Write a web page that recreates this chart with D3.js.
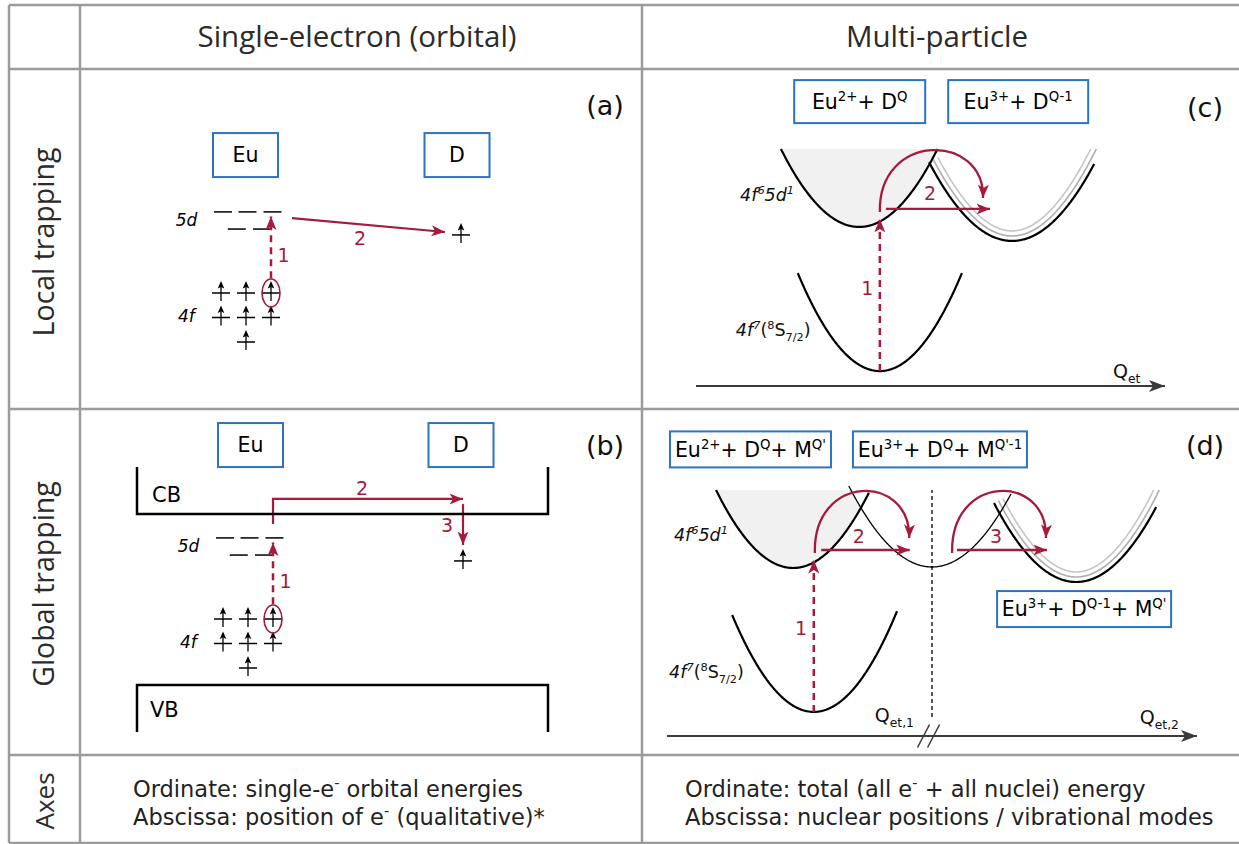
<!DOCTYPE html>
<html><head><meta charset="utf-8">
<script src="https://cdn.jsdelivr.net/npm/d3@7/dist/d3.min.js"></script>
<style>html,body{margin:0;padding:0;background:#fff}svg{display:block}</style>
</head><body>
<svg id="fig" width="1239" height="844"></svg>
<script>
// ================= DATA =================
const columnHeaders = ["Single-electron (orbital)", "Multi-particle"];
const rowHeaders = ["Local trapping", "Global trapping", "Axes"];
const panelTags = ["(a)", "(b)", "(c)", "(d)"];
const axesNotesOrbital = [
  [["Ordinate: single-e"], ["-", "sup"], [" orbital energies"]],
  [["Abscissa: position of e"], ["-", "sup"], [" (qualitative)*"]]
];
const axesNotesMulti = [
  [["Ordinate: total (all e"], ["-", "sup"], [" + all nuclei) energy"]],
  [["Abscissa: nuclear positions / vibrational modes"]]
];

// --- single-electron panels: x = orbital column / site position, y = orbital energy (arb. units)
const f4Electrons = [[0, 2], [1, 2], [2, 2], [0, 1], [1, 1], [2, 1], [1, 0]]; // [column, sub-level energy]
const d5UpperLevels = [0.08, 1.06, 2.06];
const d5LowerLevels = [0.63, 1.64];
const d5Energies = [5.31, 4.61];
const excitedElectron = [2, 2];
const excitationE = [2.6, 5.12];
const donorLevel = [9.6, 4.37];
const transferA = [[2.84, 5.06], [8.96, 4.49]];
const transferB = [[2.0, 5.88], [2.0, 6.9], [9.6, 6.9]];
const captureB = [[9.6, 6.69], [9.6, 5.02]];
const bandEdgesB = [6.29, -0.69];   // CB bottom, VB top
const bandOuterB = [8.2, -2.61];
const bandSpanB = [-3.44, 13.0];
const siteBoxesA = [["Eu", 0.98, 7.63], ["D", 9.44, 7.63]];
const siteBoxesB = [["Eu", 1.1, 9.1], ["D", 9.52, 9.1]];
const numLabelsA = [["1", 2.5, 3.25], ["2", 5.56, 3.96]];
const numLabelsB = [["1", 2.5, 3.25], ["2", 5.56, 7.06], ["3", 8.96, 5.55]];
const shellLabels = [["5d", -0.95, 4.73], ["4f", -1.05, 0.82]];
const bandLabelsB = [["CB", -2.84, 6.78], ["VB", -2.92, -2.0]];

// --- multi-particle panels: parabolas [Q0, Emin, curvature, Qfrom, Qto] (arb. units 0-100)
const pesC_Eu2 = [34.8, 67.1, 0.118, 18.1, 51.5];
const pesC_Eu3 = [67.4, 61.2, 0.106, 49.7, 84.9];
const pesC_ground = [39.2, 6.3, 0.135, 21.7, 56.7];
const arcC = [[39.2, 73.4], [38.8, 107.2], [61.6, 107.2], [61.2, 79.3]];
const hopC = [[40.5, 74.7], [62.7, 74.7]];
const excC = [[39.2, 6.3], [39.2, 70.5]];
const numLabelsC = [["1", 36.5, 38.4], ["2", 49.9, 78.5]];

const pesD_Eu2 = [23.8, 68.3, 0.1497, 9.25, 38.1];
const pesD_M = [50.0, 68.7, 0.1337, 34.3, 64.9];
const pesD_D = [77.2, 62.6, 0.1336, 61.7, 92.3];
const pesD_ground = [27.7, 9.8, 0.166, 12.3, 43.4];
const arcD2 = [[27.9, 74.4], [27.5, 106.9], [46.0, 106.9], [45.7, 80.5]];
const arcD3 = [[53.8, 74.4], [53.4, 106.9], [71.9, 106.9], [71.5, 80.5]];
const hopD2 = [[29.1, 75.6], [45.8, 75.6]];
const hopD3 = [[54.7, 75.6], [71.7, 75.6]];
const excD = [[27.7, 9.8], [27.7, 71.5]];
const separatorD = [50.0, 7.7, 100];
const slashesD = [48.4, 50.3];
const numLabelsD = [["1", 25.3, 41.1], ["2", 36.2, 78.5], ["3", 62.1, 78.5]];

const stateBoxesC = [
  [[["Eu"], ["2+", "sup"], ["+ D"], ["Q", "sup"]], 34.9, 120.0],
  [[["Eu"], ["3+", "sup"], ["+ D"], ["Q-1", "sup"]], 68.7, 120.0]
];
const stateBoxesD = [
  [[["Eu"], ["2+", "sup"], ["+ D"], ["Q", "sup"], ["+ M"], ["Q'", "sup"]], 15.75, 116.5],
  [[["Eu"], ["3+", "sup"], ["+ D"], ["Q", "sup"], ["+ M"], ["Q'-1", "sup"]], 51.5, 116.5],
  [[["Eu"], ["3+", "sup"], ["+ D"], ["Q-1", "sup"], ["+ M"], ["Q'", "sup"]], 78.7, 51.6]
];
const excitedLabel = [["4f", "i"], ["6", "supi"], ["5d", "i"], ["1", "supi"]];
const groundLabel = [["4f", "i"], ["7", "supi"], ["("], ["8", "sup"], ["S"], ["7/2", "sub"], [")"]];
const pesLabelsC = [[excitedLabel, 9.4, 78.1], [groundLabel, 8.5, 21.1]];
const axisLabelsC = [[[["Q"], ["et", "sub"]], 88.9, 3.4]];
const pesLabelsD = [[excitedLabel, 1.3, 79.3], [groundLabel, 0.4, 23.6]];
const axisLabelsD = [[[["Q"], ["et,1", "sub"]], 39.2, 5.7], [[["Q"], ["et,2", "sub"]], 89.2, 4.9]];

// ================= LAYOUT / STYLE =================
const W = 1239, H = 844;
const RED = "#a51a3d", BLUE = "#2d73c4", GRID = "#9b9b9b", AXIS = "#3a3a3a";
const TFONT = "'Open Sans', sans-serif", PFONT = "'DejaVu Sans', Verdana, sans-serif";
const gridV = [9, 80, 642], gridH = [5, 69, 409, 755, 843];

const svg = d3.select("#fig");
const defs = svg.append("defs");
function marker(id, color, len, half, notch) {
  defs.append("marker").attr("id", id).attr("viewBox", `0 ${-half - 1} ${len + 1} ${2 * half + 2}`)
    .attr("refX", len).attr("refY", 0).attr("markerWidth", len + 1).attr("markerHeight", 2 * half + 2)
    .attr("markerUnits", "userSpaceOnUse").attr("orient", "auto")
    .append("path").attr("d", `M0,${-half}L${len},0L0,${half}L${notch},0Z`).attr("fill", color);
}
marker("ahRed", RED, 13.5, 5.5, 3.5);
marker("ahAxis", AXIS, 16, 6, 4);

function rich(g, x, y, parts, size, o = {}) {
  const t = g.append("text").attr("x", x).attr("y", y).attr("font-size", size)
    .attr("font-family", o.family || PFONT).attr("fill", o.fill || "#000")
    .attr("text-anchor", o.anchor || "start").style("white-space", "pre");
  if (o.transform) t.attr("transform", o.transform);
  let off = 0;
  for (const [s, m = ""] of parts) {
    const sup = m.includes("sup"), sub = m.includes("sub");
    const target = sup ? -0.4 * size : sub ? 0.28 * size : 0;
    const ts = t.append("tspan").attr("dy", target - off).text(s);
    off = target;
    if (sup || sub) ts.attr("font-size", size * 0.65);
    if (/(^i$|supi)/.test(m)) ts.attr("font-style", "italic");
  }
  return t;
}

// ---------- table ----------
const tbl = svg.append("g");
gridV.forEach(x => tbl.append("line").attr("x1", x).attr("x2", x).attr("y1", gridH[0]).attr("y2", gridH[4])
  .attr("stroke", GRID).attr("stroke-width", 2.5));
gridH.forEach(y => tbl.append("line").attr("x1", gridV[0]).attr("x2", W).attr("y1", y).attr("y2", y)
  .attr("stroke", GRID).attr("stroke-width", 2.5));
const headX = [357, 937];
columnHeaders.forEach((h, i) => tbl.append("text").attr("x", headX[i]).attr("y", 47).attr("text-anchor", "middle")
  .attr("font-family", TFONT).attr("font-size", 29.5).attr("fill", "#2b2b2b").text(h));
const rowY = [242, 584, 801], rowSize = [28.5, 28.5, 26];
rowHeaders.forEach((h, i) => tbl.append("text").attr("transform", `translate(54,${rowY[i]}) rotate(-90)`)
  .attr("text-anchor", "middle").attr("font-family", TFONT).attr("font-size", rowSize[i]).attr("fill", "#2b2b2b").text(h));
axesNotesOrbital.forEach((p, i) => rich(tbl, 133, 797 + 28 * i, p, 22.5, { family: PFONT, fill: "#222" }));
axesNotesMulti.forEach((p, i) => rich(tbl, 685, 797 + 28 * i, p, 22.5, { family: PFONT, fill: "#222" }));
const tagPos = [[605, 115], [605, 455], [1205, 117], [1205, 455]];
panelTags.forEach((t, i) => tbl.append("text").attr("x", tagPos[i][0]).attr("y", tagPos[i][1])
  .attr("text-anchor", "middle").attr("font-family", PFONT).attr("font-size", 27).attr("fill", "#111").text(t));

// ---------- single-electron panels ----------
function electron(g, px, py) {
  g.append("line").attr("x1", px - 9).attr("x2", px + 9).attr("y1", py).attr("y2", py).attr("stroke", "#000").attr("stroke-width", 1.5);
  g.append("line").attr("x1", px).attr("x2", px).attr("y1", py + 8).attr("y2", py - 6).attr("stroke", "#000").attr("stroke-width", 1.3);
  g.append("path").attr("d", `M${px},${py - 12}L${px - 3.3},${py - 4.5}L${px},${py - 6}L${px + 3.3},${py - 4.5}Z`).attr("fill", "#000");
}
function box(g, cx, cy, parts, size, w, h) {
  g.append("rect").attr("x", cx - w / 2).attr("y", cy - h / 2).attr("width", w).attr("height", h)
    .attr("fill", "#fff").attr("stroke", BLUE).attr("stroke-width", 2);
  rich(g, cx, cy + size * 0.36, parts, size, { anchor: "middle" });
}
function orbitalPanel(x, y, boxes, transfer, numLabels) {
  const g = svg.append("g");
  boxes.forEach(([t, bx, by]) => box(g, x(bx), y(by), [[t]], 20.5, 65, 44));
  d5UpperLevels.forEach(c => g.append("line").attr("x1", x(c) - 9).attr("x2", x(c) + 9)
    .attr("y1", y(d5Energies[0])).attr("y2", y(d5Energies[0])).attr("stroke", "#000").attr("stroke-width", 1.5));
  d5LowerLevels.forEach(c => g.append("line").attr("x1", x(c) - 9).attr("x2", x(c) + 9)
    .attr("y1", y(d5Energies[1])).attr("y2", y(d5Energies[1])).attr("stroke", "#000").attr("stroke-width", 1.5));
  f4Electrons.forEach(([c, e]) => electron(g, x(c), y(e)));
  electron(g, x(donorLevel[0]), y(donorLevel[1]));
  g.append("ellipse").attr("cx", x(excitedElectron[0])).attr("cy", y(excitedElectron[1])).attr("rx", 9).attr("ry", 14)
    .attr("fill", "none").attr("stroke", RED).attr("stroke-width", 1.6);
  g.append("line").attr("x1", x(excitedElectron[0])).attr("x2", x(excitedElectron[0]))
    .attr("y1", y(excitationE[0])).attr("y2", y(excitationE[1])).attr("stroke", RED).attr("stroke-width", 2.5)
    .attr("stroke-dasharray", "7,5").attr("marker-end", "url(#ahRed)");
  transfer.forEach(pts => g.append("path").attr("d", d3.line()(pts.map(p => [x(p[0]), y(p[1])])))
    .attr("fill", "none").attr("stroke", RED).attr("stroke-width", 2.2).attr("marker-end", "url(#ahRed)"));
  numLabels.forEach(([t, lx, ly]) => g.append("text").attr("x", x(lx)).attr("y", y(ly)).attr("text-anchor", "middle")
    .attr("font-family", PFONT).attr("font-size", 19).attr("fill", RED).text(t));
  shellLabels.forEach(([t, lx, ly]) => g.append("text").attr("x", x(lx)).attr("y", y(ly)).attr("text-anchor", "end")
    .attr("font-family", PFONT).attr("font-size", 17).attr("font-style", "italic").attr("fill", "#000").text(t));
  return g;
}
const xA = d3.scaleLinear().domain([0, 1]).range([221, 246]);
const yA = d3.scaleLinear().domain([0, 1]).range([342, 317.5]);
orbitalPanel(xA, yA, siteBoxesA, [transferA], numLabelsA);

const xB = d3.scaleLinear().domain([0, 1]).range([223, 248]);
const yB = d3.scaleLinear().domain([0, 1]).range([668, 643.5]);
const gB = orbitalPanel(xB, yB, siteBoxesB, [transferB, captureB], numLabelsB);
[[bandOuterB[0], bandEdgesB[0]], [bandOuterB[1], bandEdgesB[1]]].forEach(([o, e]) =>
  gB.append("path").attr("d", `M${xB(bandSpanB[0])},${yB(o)}V${yB(e)}H${xB(bandSpanB[1])}V${yB(o)}`)
    .attr("fill", "none").attr("stroke", "#000").attr("stroke-width", 2.5));
bandLabelsB.forEach(([t, lx, ly]) => gB.append("text").attr("x", xB(lx)).attr("y", yB(ly))
  .attr("font-family", PFONT).attr("font-size", 21).attr("fill", "#000").text(t));

// ---------- multi-particle panels ----------
const pes = (p) => (q) => p[1] + p[2] * (q - p[0]) ** 2;
function pesPts(p, x, y, extend = 0) {
  const a = p[3], b = p[4] + extend;
  return d3.range(201).map(i => { const q = a + (b - a) * i / 200; return [x(q), y(pes(p)(q))]; });
}
function offsetPts(pts, d) {
  return pts.map((p, i) => {
    const a = pts[Math.max(0, i - 1)], b = pts[Math.min(pts.length - 1, i + 1)];
    const dx = b[0] - a[0], dy = b[1] - a[1], L = Math.hypot(dx, dy);
    return [p[0] + d * dy / L, p[1] - d * dx / L];
  });
}
let clipN = 0;
function multiPanel(x, y, o) {
  const g = svg.append("g");
  const cid = "clip" + (clipN++);
  defs.append("clipPath").attr("id", cid).append("rect").attr("x", 0).attr("y", y(100)).attr("width", W).attr("height", H);
  const fillQ = d3.range(0, 301).map(i => o.fill[3] + (o.fill[4] - o.fill[3]) * i / 300);
  const topE = q => (o.fillLimit && q >= o.fillLimit[3]) ? Math.min(100, pes(o.fillLimit)(q)) : 100;
  g.append("path").attr("d", d3.area().defined(q => topE(q) > pes(o.fill)(q))
      .x(q => x(q)).y0(q => y(pes(o.fill)(q))).y1(q => y(topE(q)))(fillQ))
    .attr("fill", "#f1f1f1");
  const gp = pesPts(o.trap, x, y, 3);
  [[10, "#c6c6c6"], [5, "#aeaeae"]].forEach(([d, c]) => g.append("path").attr("d", d3.line()(offsetPts(gp, d)))
    .attr("clip-path", `url(#${cid})`).attr("fill", "none").attr("stroke", c).attr("stroke-width", 1.6));
  o.curves.forEach(([p, w]) => g.append("path").attr("d", d3.line()(pesPts(p, x, y)))
    .attr("fill", "none").attr("stroke", "#000").attr("stroke-width", w));
  g.append("line").attr("x1", x(0)).attr("x2", x(100)).attr("y1", y(0)).attr("y2", y(0))
    .attr("stroke", AXIS).attr("stroke-width", 2).attr("marker-end", "url(#ahAxis)");
  g.append("line").attr("x1", x(o.exc[0][0])).attr("x2", x(o.exc[1][0])).attr("y1", y(o.exc[0][1])).attr("y2", y(o.exc[1][1]))
    .attr("stroke", RED).attr("stroke-width", 2.5).attr("stroke-dasharray", "7,5").attr("marker-end", "url(#ahRed)");
  o.arcs.forEach(a => {
    const pth = d3.path(); pth.moveTo(x(a[0][0]), y(a[0][1]));
    pth.bezierCurveTo(x(a[1][0]), y(a[1][1]), x(a[2][0]), y(a[2][1]), x(a[3][0]), y(a[3][1]));
    g.append("path").attr("d", pth.toString()).attr("fill", "none").attr("stroke", RED).attr("stroke-width", 2.3).attr("marker-end", "url(#ahRed)");
  });
  o.hops.forEach(h => g.append("line").attr("x1", x(h[0][0])).attr("x2", x(h[1][0])).attr("y1", y(h[0][1])).attr("y2", y(h[1][1]))
    .attr("stroke", RED).attr("stroke-width", 2.3).attr("marker-end", "url(#ahRed)"));
  o.nums.forEach(([t, lx, ly]) => g.append("text").attr("x", x(lx)).attr("y", y(ly)).attr("text-anchor", "middle")
    .attr("font-family", PFONT).attr("font-size", 19).attr("fill", RED).text(t));
  o.labels.forEach(([parts, lx, ly]) => rich(g, x(lx), y(ly), parts, 17.5, { fill: "#111" }));
  o.axisLabels.forEach(([parts, lx, ly]) => rich(g, x(lx), y(ly), parts, 19, { fill: "#111" }));
  o.boxes.forEach(([parts, bx, by], i) => box(g, x(bx), y(by), parts, 20.5, o.boxW[i], o.boxH));
  return g;
}
const xC = d3.scaleLinear().domain([0, 100]).range([696, 1165]);
const yC = d3.scaleLinear().domain([0, 100]).range([386, 149]);
multiPanel(xC, yC, {
  fill: pesC_Eu2, fillLimit: null, trap: pesC_Eu3,
  curves: [[pesC_Eu2, 2.2], [pesC_Eu3, 2.2], [pesC_ground, 2.2]],
  exc: excC, arcs: [arcC], hops: [hopC], nums: numLabelsC, labels: pesLabelsC, axisLabels: axisLabelsC,
  boxes: stateBoxesC, boxW: [131, 140], boxH: 43
});

const xD = d3.scaleLinear().domain([0, 100]).range([667, 1197]);
const yD = d3.scaleLinear().domain([0, 100]).range([736, 490]);
const gD = multiPanel(xD, yD, {
  fill: pesD_Eu2, fillLimit: pesD_M, trap: pesD_D,
  curves: [[pesD_Eu2, 2.2], [pesD_M, 1.3], [pesD_D, 2.2], [pesD_ground, 2.2]],
  exc: excD, arcs: [arcD2, arcD3], hops: [hopD2, hopD3], nums: numLabelsD, labels: pesLabelsD, axisLabels: axisLabelsD,
  boxes: stateBoxesD, boxW: [161, 174, 174], boxH: 36
});
gD.append("line").attr("x1", xD(separatorD[0])).attr("x2", xD(separatorD[0]))
  .attr("y1", yD(separatorD[1])).attr("y2", yD(separatorD[2]))
  .attr("stroke", "#000").attr("stroke-width", 1.3).attr("stroke-dasharray", "4,3");
slashesD.forEach(q => gD.append("line").attr("x1", xD(q) - 6).attr("x2", xD(q) + 6)
  .attr("y1", yD(0) + 11.5).attr("y2", yD(0) - 11.5).attr("stroke", AXIS).attr("stroke-width", 1.5));
</script>
</body></html>
